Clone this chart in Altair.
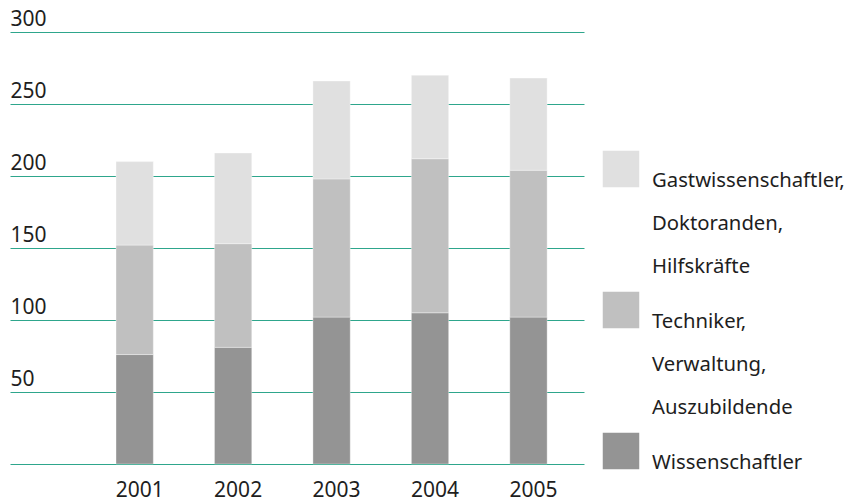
import altair as alt
import pandas as pd

# Personal nach Jahren, gestapelt nach Gruppe
years = ["2001", "2002", "2003", "2004", "2005"]
series = [
    "Wissenschaftler",
    "Techniker, Verwaltung, Auszubildende",
    "Gastwissenschaftler, Doktoranden, Hilfskräfte",
]
wissenschaftler = [76, 81, 102, 105, 102]
techniker = [76, 72, 96, 107, 102]
gaeste = [58, 63, 68, 58, 64]
colors = ["#949494", "#c0c0c0", "#e0e0e0"]
y_ticks = [0, 50, 100, 150, 200, 250, 300]

FONT = "Noto Sans"
TEXT = "#1e1e1e"
GRID = "#2ea68c"

rows = []
for s_idx, (name, vals) in enumerate(zip(series, [wissenschaftler, techniker, gaeste])):
    for year, v in zip(years, vals):
        rows.append({"Jahr": year, "Gruppe": name, "Anzahl": v, "Stapel": s_idx})
bars_df = pd.DataFrame(rows)

# Legende: oberste Gruppe zuerst, Namen zeilenweise umbrochen,
# zwischen den Gruppen etwas mehr Abstand
GROUP_GAP = 0.28
legend_rows = []
line = 0
for g_idx, name in enumerate(reversed(series)):
    parts = name.split(", ")
    for p_idx, part in enumerate(parts):
        legend_rows.append({
            "Gruppe": name,
            "Zeile": part + ("," if p_idx < len(parts) - 1 else ""),
            "Slot": line + GROUP_GAP * g_idx,
            "Erste": p_idx == 0,
        })
        line += 1
legend_df = pd.DataFrame(legend_rows)
last_slot = (line - 1) + GROUP_GAP * (len(series) - 1)

color_scale = alt.Scale(domain=series, range=colors)

bars = alt.Chart(bars_df).mark_bar(
    stroke="white", strokeWidth=1, strokeOpacity=0.35
).encode(
    x=alt.X(
        "Jahr:N",
        sort=years,
        scale=alt.Scale(paddingInner=0.621, paddingOuter=0.7256, align=0.742, round=False),
        axis=alt.Axis(
            title=None, domain=False, ticks=False, labelAngle=0,
            labelFont=FONT, labelFontSize=21, labelColor=TEXT,
            labelPadding=32, labelBaseline="alphabetic", labelOffset=5,
        ),
    ),
    y=alt.Y(
        "Anzahl:Q",
        stack="zero",
        scale=alt.Scale(domain=[0, 300], nice=False),
        axis=alt.Axis(
            title=None, values=y_ticks, grid=True, gridColor=GRID, gridWidth=1,
            domain=False, ticks=False, labelAlign="left", labelBaseline="alphabetic",
            labelPadding=0, labelOffset=-7, labelFont=FONT, labelFontSize=21,
            labelColor=TEXT, labelExpr="datum.value == 0 ? '' : datum.label",
        ),
    ),
    color=alt.Color("Gruppe:N", scale=color_scale, legend=None),
    order=alt.Order("Stapel:Q"),
)

slot_scale = alt.Scale(domain=[0, last_slot], range=[155, 155 + 43 * last_slot])

legend_swatch = alt.Chart(legend_df).transform_filter("datum.Erste").mark_square(
    size=1332, opacity=1, yOffset=-18
).encode(
    x=alt.value(611),
    y=alt.Y("Slot:Q", scale=slot_scale, axis=None),
    color=alt.Color("Gruppe:N", scale=color_scale, legend=None),
)

legend_text = alt.Chart(legend_df).mark_text(
    align="left", baseline="alphabetic", font=FONT, fontSize=20.3, color=TEXT
).encode(
    x=alt.value(642),
    y=alt.Y("Slot:Q", scale=slot_scale, axis=None),
    text="Zeile:N",
)

chart = alt.layer(bars, legend_swatch, legend_text).resolve_scale(
    y="independent"
).properties(
    width=574,
    height=432,
    autosize=alt.AutoSizeParams(type="none"),
    padding={"left": 10, "top": 32, "right": 264, "bottom": 35},
).configure(font=FONT).configure_view(stroke=None)

chart.save("out.html", embed_options={"renderer": "svg", "actions": False})
